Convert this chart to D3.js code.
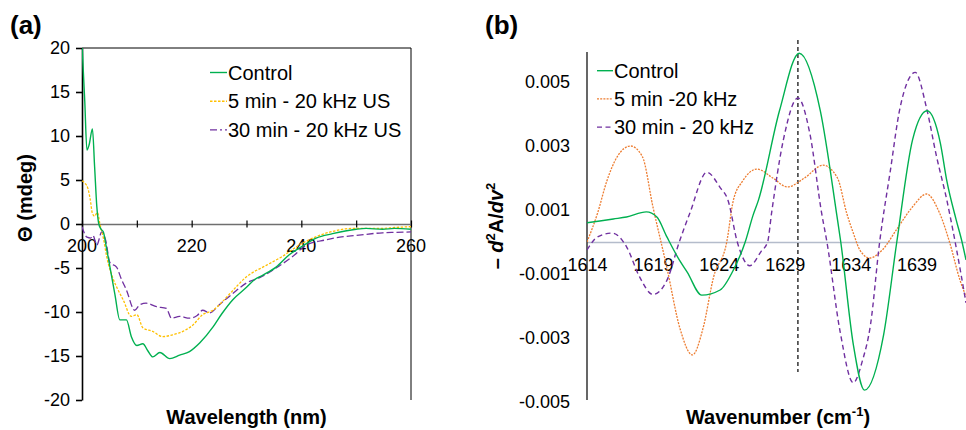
<!DOCTYPE html>
<html>
<head>
<meta charset="utf-8">
<script src="https://cdn.jsdelivr.net/npm/d3@7"></script>
<style>
  body { margin: 0; background: #fff; }
  svg { font-family: "Liberation Sans", Arial, sans-serif; }
</style>
</head>
<body>
<div id="main"></div>
<script>
// ---- panel (a): CD spectra, [wavelength nm, theta mdeg]
const cdControl = [[200,20.5],[200.5,14],[200.9,8.4],[201.3,9.0],[201.9,10.8],[202.3,6.5],[202.7,2.0],[203.1,-0.1],
  [203.5,-0.6],[203.9,-0.9],[204.4,-2.5],[205.1,-4.9],[206,-8],[206.9,-10.9],[208.1,-10.9],[209,-12.8],[210,-13.8],
  [211.1,-13.6],[212,-14.4],[212.9,-15.1],[214.2,-14.6],[216,-15.3],[217.8,-14.9],[219.6,-14.5],[221.5,-13.5],
  [223.9,-11.7],[225.5,-10.2],[227.5,-8.6],[230,-7.2],[231.5,-6.3],[233,-5.8],[235.4,-4.9],[237.8,-3.5],[240,-2.6],
  [242.7,-1.6],[245.7,-1.1],[248,-0.8],[250,-0.6],[251.8,-0.5],[254.8,-0.6],[257,-0.5],[260,-0.6]];
const cd5min = [[200,4.9],[200.6,4.6],[201.1,4.0],[201.5,2.8],[201.9,1.2],[202.3,0.9],[202.8,1.3],[203.3,-0.1],
  [203.9,-1.6],[204.5,-3.7],[205.6,-6.1],[206.5,-7.4],[207.5,-8.6],[209,-10.5],[210,-10.3],[211.1,-11.8],
  [212.9,-12.2],[214.7,-12.8],[216.5,-12.6],[218.4,-12.2],[220.2,-11.5],[222,-10.3],[223.9,-9.8],[225.5,-8.9],
  [227,-7.9],[230,-6],[233.6,-4.7],[236.5,-3.7],[239.6,-2.4],[243.3,-1.3],[246,-0.8],[249.3,-0.5],[252,-0.5],
  [254.8,-0.5],[257,-0.4],[260,-0.3]];
const cd30min = [[200,-0.3],[200.9,-1.5],[201.6,-1.6],[202,-1.3],[202.7,-2.4],[203.6,-0.9],[204.3,-1.8],[205.1,-4.4],
  [206.3,-4.9],[207.2,-6.3],[208.1,-7.5],[209.6,-9.8],[210.5,-9.2],[211.7,-9.0],[213.6,-9.4],[215.4,-9.6],
  [216.3,-10.7],[217.8,-10.5],[219.6,-10.7],[221,-10.4],[222,-9.8],[223.3,-10.1],[225,-9.2],[227.5,-7.9],[230,-6.7],
  [232.4,-6.1],[235.4,-5.0],[238.4,-3.7],[240.9,-2.4],[244.5,-1.8],[247,-1.5],[250,-1.3],[254.8,-1.0],[257,-0.95],
  [260,-0.9]];
const cdXTicks = [200, 210, 220, 230, 240, 250, 260];
const cdXLabels = [200, 220, 240, 260];
const cdYTicks = [20, 15, 10, 5, 0, -5, -10, -15, -20];
const cdNames = ["Control", "5 min - 20 kHz US", "30 min - 20 kHz US"];

// ---- panel (b): second derivative FTIR, [wavenumber cm-1, -d2A/dv2]
const irControl = [[1614,0.0006],[1616,0.00072],[1617,0.00078],[1618.5,0.00094],[1619.3,0.00078],[1620.06,0.00016],
  [1621,-0.00056],[1621.6,-0.00094],[1622.7,-0.00166],[1624.1,-0.0015],[1625.1,-0.00088],[1626,0],[1626.6,0.00084],
  [1627,0.0013],[1628.6,0.0041],[1630.1,0.0059],[1631.7,0.0041],[1632.95,0.00084],[1633.25,0],[1634.2,-0.0032],
  [1635.05,-0.00463],[1636.5,-0.0029],[1637.5,0],[1638.7,0.0032],[1639.8,0.0041],[1640.8,0.0031],[1641.3,0.0019],
  [1642,0.0007],[1642.45,0],[1642.75,-0.00056]];
const ir5min = [[1614,0],[1614.8,0.0009],[1615.5,0.0019],[1616.3,0.00267],[1617.3,0.003],[1618.2,0.00267],
  [1619,0.0011],[1620.06,-0.0008],[1621.05,-0.0027],[1622,-0.00353],[1622.8,-0.0027],[1623.6,-0.0011],[1624.6,0],
  [1625.1,0.0013],[1625.8,0.0019],[1626.9,0.00228],[1628.1,0.002],[1629.2,0.00172],[1630.5,0.002],[1631.9,0.0024],
  [1633,0.002],[1633.7,0.0009],[1634.2,0.00028],[1634.7,-0.00025],[1635.45,-0.0005],[1636.4,-0.00025],
  [1637.5,0.0004],[1638.7,0.0011],[1639.75,0.0015],[1640.75,0.0009],[1641.5,0],[1642.3,-0.0012],[1642.75,-0.0017]];
const ir30min = [[1614,-0.00025],[1614.8,0.00016],[1615.9,0.00028],[1617,-0.00015],[1618,-0.0011],[1619,-0.00164],
  [1620.06,-0.0012],[1621,0],[1621.8,0.0009],[1623.1,0.00218],[1624.1,0.0017],[1624.7,0.0013],[1625.4,0],
  [1626.35,-0.00074],[1627.2,-0.0003],[1627.7,0],[1628,0.0009],[1628.9,0.0032],[1630,0.0045],[1630.9,0.0034],
  [1631.8,0.0009],[1632.2,0],[1633.2,-0.0028],[1634.2,-0.0044],[1634.9,-0.0037],[1635.5,-0.0026],[1636.2,0],
  [1637,0.0022],[1637.75,0.0042],[1638.9,0.0053],[1639.75,0.0042],[1640.5,0.0027],[1641.3,0.0013],[1641.9,0.00006],
  [1642.75,-0.0019]];
const irXTicks = [1614, 1619, 1624, 1629, 1634, 1639];
const irYTicks = [0.005, 0.003, 0.001, -0.001, -0.003, -0.005];
const irMarker = 1630;
const irNames = ["Control", "5 min -20 kHz", "30 min - 20 kHz"];

const ctx = { w: 966, h: 430 };

function drawPanelA(svg) {
  let x = d3.scaleLinear().domain([200, 260]).range([82, 411]);
  let y = d3.scaleLinear().domain([-20, 20]).range([400, 48]);
  let g = svg.append("g").attr("id", "panelA");

  g.append("clipPath").attr("id", "clipA").append("rect")
    .attr("x", x(200)).attr("y", y(20)).attr("width", x(260) - x(200)).attr("height", y(-20) - y(20));

  // frame top + right
  g.append("line").attr("x1", x(200)).attr("x2", x(260)).attr("y1", y(20)).attr("y2", y(20))
    .attr("stroke", "#000").attr("stroke-width", 1);
  g.append("line").attr("x1", x(260)).attr("x2", x(260)).attr("y1", y(20)).attr("y2", y(-20))
    .attr("stroke", "#000").attr("stroke-width", 1);

  // x axis on the zero line
  let xAxis = d3.axisBottom(x).tickValues(cdXTicks).tickSize(0).tickFormat("");
  let xg = g.append("g").attr("transform", `translate(0,${y(0)})`).call(xAxis);
  xg.select(".domain").attr("stroke", "#6f6f6f").attr("stroke-width", 1.6);
  xg.selectAll(".tick line").attr("y1", -3.5).attr("y2", 3.5).attr("stroke", "#000").attr("stroke-width", 1.2);
  g.selectAll(".xlabA").data(cdXLabels).enter().append("text")
    .attr("x", (d) => x(d)).attr("y", 252).attr("text-anchor", "middle")
    .attr("font-size", 18).attr("fill", "#000").text((d) => d);

  // y axis
  let yAxis = d3.axisLeft(y).tickValues(cdYTicks).tickSize(6).tickSizeOuter(0).tickPadding(6)
    .tickFormat((d) => String(d));
  let yg = g.append("g").attr("transform", `translate(${x(200)},0)`).call(yAxis);
  yg.select(".domain").attr("stroke", "#000").attr("stroke-width", 1.6);
  yg.selectAll(".tick line").attr("stroke", "#000").attr("stroke-width", 1.6);
  yg.selectAll(".tick text").attr("font-size", 18).attr("fill", "#000").attr("font-family", null);

  // lines
  let line = d3.line().x((d) => x(d[0])).y((d) => y(d[1])).curve(d3.curveMonotoneX);
  let series = [
    { data: cd30min, color: "#7030A0", dash: "7,3", w: 1.3 },
    { data: cd5min, color: "#FFC000", dash: "2.5,1.5", w: 1.3 },
    { data: cdControl, color: "#00B050", dash: null, w: 1.4 }
  ];
  let lg = g.append("g").attr("clip-path", "url(#clipA)");
  series.forEach((s) => {
    lg.append("path").datum(s.data).attr("d", line).attr("fill", "none")
      .attr("stroke", s.color).attr("stroke-width", s.w).attr("stroke-dasharray", s.dash);
  });

  // legend
  let legStyles = [
    { color: "#00B050", dash: null },
    { color: "#FFC000", dash: "2.5,1.5" },
    { color: "#7030A0", dash: "7,3,2,3" }
  ];
  cdNames.forEach((name, i) => {
    let cy = 72.5 + i * 28.7;
    g.append("line").attr("x1", 210).attr("x2", 227).attr("y1", cy).attr("y2", cy)
      .attr("stroke", legStyles[i].color).attr("stroke-width", 1.4).attr("stroke-dasharray", legStyles[i].dash);
    g.append("text").attr("x", 228).attr("y", cy + 7.2).attr("font-size", 20).text(name);
  });

  // titles
  g.append("text").attr("x", x(230)).attr("y", 424).attr("text-anchor", "middle")
    .attr("font-size", 20).attr("font-weight", "bold").text("Wavelength (nm)");
  g.append("text").attr("transform", "translate(32,198) rotate(-90)").attr("text-anchor", "middle")
    .attr("font-size", 20).attr("font-weight", "bold").text("Θ (mdeg)");
  g.append("text").attr("x", 10).attr("y", 34).attr("font-size", 26).attr("font-weight", "bold").text("(a)");
}

function drawPanelB(svg) {
  let x = d3.scaleLinear().domain([1614, 1642.75]).range([587, 966]);
  let y = d3.scaleLinear().domain([-0.005, 0.006]).range([402, 50]);
  let g = svg.append("g").attr("id", "panelB");

  g.append("clipPath").attr("id", "clipB").append("rect")
    .attr("x", x(1614)).attr("y", 20).attr("width", x(1642.75) - x(1614)).attr("height", 400);

  // zero line (x axis) with labels below
  let xAxis = d3.axisBottom(x).tickValues(irXTicks).tickSize(0).tickPadding(16).tickFormat((d) => String(d));
  let xg = g.append("g").attr("transform", `translate(0,${y(0)})`).call(xAxis);
  xg.select(".domain").attr("stroke", "#b4bccb").attr("stroke-width", 1.3);
  xg.selectAll(".tick text").attr("font-size", 18).attr("fill", "#000").attr("font-family", null);

  // y axis
  let yAxis = d3.axisLeft(y).tickValues(irYTicks).tickSize(0).tickPadding(17)
    .tickFormat((d) => d.toFixed(3));
  let yg = g.append("g").attr("transform", `translate(${x(1614)},0)`).call(yAxis);
  yg.select(".domain").attr("stroke", "#000").attr("stroke-width", 1.2)
    .attr("d", `M0,${y(0.00594)}V${y(-0.00494)}`);
  yg.selectAll(".tick text").attr("font-size", 18).attr("fill", "#000").attr("font-family", null);

  // marker at 1630
  g.append("line").attr("x1", x(irMarker)).attr("x2", x(irMarker)).attr("y1", 40).attr("y2", 372)
    .attr("stroke", "#000").attr("stroke-width", 1.2).attr("stroke-dasharray", "4,3");

  let line = d3.line().x((d) => x(d[0])).y((d) => y(d[1])).curve(d3.curveMonotoneX);
  let series = [
    { data: ir5min, color: "#ED7D31", dash: "2,1.2", w: 1.3 },
    { data: ir30min, color: "#7030A0", dash: "5,3.5", w: 1.4 },
    { data: irControl, color: "#00B050", dash: null, w: 1.4 }
  ];
  let lg = g.append("g").attr("clip-path", "url(#clipB)");
  series.forEach((s) => {
    lg.append("path").datum(s.data).attr("d", line).attr("fill", "none")
      .attr("stroke", s.color).attr("stroke-width", s.w).attr("stroke-dasharray", s.dash);
  });

  let legStyles = [
    { color: "#00B050", dash: null },
    { color: "#ED7D31", dash: "2,1.2" },
    { color: "#7030A0", dash: "5,3.5" }
  ];
  irNames.forEach((name, i) => {
    let cy = 70.7 + i * 28.2;
    g.append("line").attr("x1", 597).attr("x2", 613).attr("y1", cy).attr("y2", cy)
      .attr("stroke", legStyles[i].color).attr("stroke-width", 1.4).attr("stroke-dasharray", legStyles[i].dash);
    g.append("text").attr("x", 614).attr("y", cy + 7.2).attr("font-size", 20).text(name);
  });

  // titles
  let xt = g.append("text").attr("x", 778).attr("y", 424).attr("text-anchor", "middle")
    .attr("font-size", 20).attr("font-weight", "bold");
  xt.append("tspan").text("Wavenumber (cm");
  xt.append("tspan").attr("font-size", 13).attr("dy", -8).text("-1");
  xt.append("tspan").attr("dy", 8).text(")");

  let yt = g.append("text").attr("transform", "translate(503,226) rotate(-90)").attr("text-anchor", "middle")
    .attr("font-size", 20).attr("font-weight", "bold");
  yt.append("tspan").text("– ");
  yt.append("tspan").attr("font-style", "italic").text("d");
  yt.append("tspan").attr("font-size", 13).attr("dy", -8).text("2");
  yt.append("tspan").attr("dy", 8).text("A/");
  yt.append("tspan").attr("font-style", "italic").text("dv");
  yt.append("tspan").attr("font-size", 13).attr("dy", -8).text("2");

  g.append("text").attr("x", 485).attr("y", 34).attr("font-size", 26).attr("font-weight", "bold").text("(b)");
}

function createViz() {
  let svg = d3.select("#main").append("svg").attr("width", ctx.w).attr("height", ctx.h);
  drawPanelA(svg);
  drawPanelB(svg);
}
createViz();
</script>
</body>
</html>
